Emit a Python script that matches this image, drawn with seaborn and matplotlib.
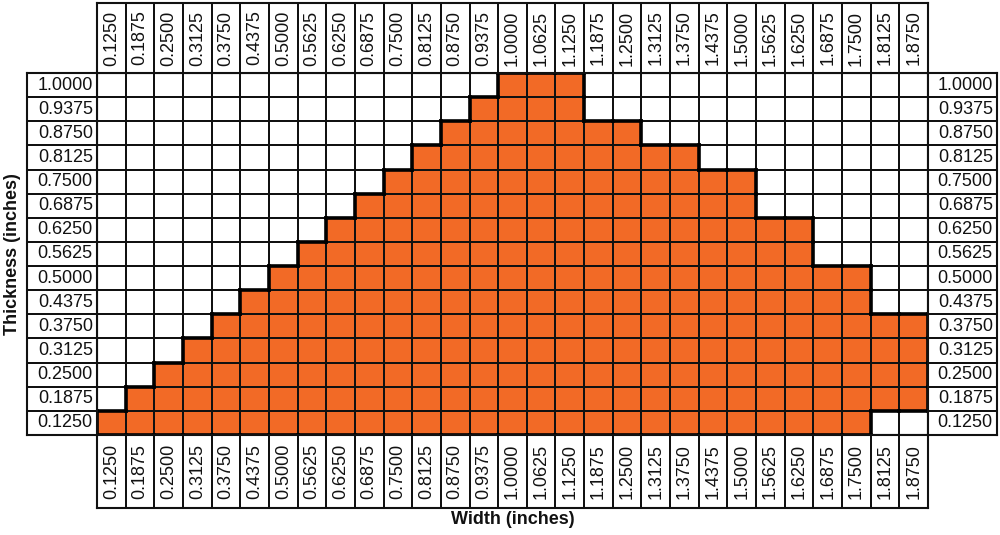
import numpy as np
import pandas as pd
import matplotlib
matplotlib.use("Agg")
import matplotlib.pyplot as plt
from matplotlib.colors import ListedColormap
import seaborn as sns

# ---- data ----
width_labels = ["0.1250", "0.1875", "0.2500", "0.3125", "0.3750", "0.4375", "0.5000",
                "0.5625", "0.6250", "0.6875", "0.7500", "0.8125", "0.8750", "0.9375",
                "1.0000", "1.0625", "1.1250", "1.1875", "1.2500", "1.3125", "1.3750",
                "1.4375", "1.5000", "1.5625", "1.6250", "1.6875", "1.7500", "1.8125",
                "1.8750"]
thickness_labels = ["1.0000", "0.9375", "0.8750", "0.8125", "0.7500", "0.6875", "0.6250",
                    "0.5625", "0.5000", "0.4375", "0.3750", "0.3125", "0.2500", "0.1875",
                    "0.1250"]
col_top = [0.1250, 0.1875, 0.2500, 0.3125, 0.3750, 0.4375, 0.5000, 0.5625, 0.6250,
           0.6875, 0.7500, 0.8125, 0.8750, 0.9375, 1.0000, 1.0000, 1.0000, 0.8750,
           0.8750, 0.8125, 0.8125, 0.7500, 0.7500, 0.6250, 0.6250, 0.5000, 0.5000,
           0.3750, 0.3750]
col_bottom = [0.1250, 0.1250, 0.1250, 0.1250, 0.1250, 0.1250, 0.1250, 0.1250, 0.1250,
              0.1250, 0.1250, 0.1250, 0.1250, 0.1250, 0.1250, 0.1250, 0.1250, 0.1250,
              0.1250, 0.1250, 0.1250, 0.1250, 0.1250, 0.1250, 0.1250, 0.1250, 0.1250,
              0.1875, 0.1875]

ORANGE = "#F26A26"
LINE = "#111111"

sns.set_theme(style="white")
plt.rcParams["font.family"] = ["Liberation Sans", "DejaVu Sans"]

thick_vals = np.array([float(t) for t in thickness_labels])
mask = np.zeros((len(thickness_labels), len(width_labels)))
for j in range(len(width_labels)):
    for i, t in enumerate(thick_vals):
        if col_bottom[j] - 1e-9 <= t <= col_top[j] + 1e-9:
            mask[i, j] = 1
grid = pd.DataFrame(mask, index=thickness_labels, columns=width_labels)

fig = plt.figure(figsize=(10, 5.35), dpi=100)

# main grid
ax = fig.add_axes([0.097, 1 - 435 / 535, 0.831, 362 / 535])
sns.heatmap(grid, ax=ax, cmap=ListedColormap(["white", ORANGE]), vmin=0, vmax=1,
            cbar=False, linewidths=1.2, linecolor=LINE, xticklabels=False,
            yticklabels=False)
ax.set_xlabel("")
ax.set_ylabel("")
for s in ax.spines.values():
    s.set_visible(True)
    s.set_linewidth(1.5)
    s.set_color(LINE)

# thick outline around filled region
nr, nc = mask.shape
for i in range(nr):
    for j in range(nc):
        if mask[i, j] != 1:
            continue
        if i == 0 or mask[i - 1, j] == 0:
            ax.plot([j, j + 1], [i, i], color="black", lw=2.6, solid_capstyle="projecting")
        if i == nr - 1 or mask[i + 1, j] == 0:
            ax.plot([j, j + 1], [i + 1, i + 1], color="black", lw=2.6, solid_capstyle="projecting")
        if j == 0 or mask[i, j - 1] == 0:
            ax.plot([j, j], [i, i + 1], color="black", lw=2.6, solid_capstyle="projecting")
        if j == nc - 1 or mask[i, j + 1] == 0:
            ax.plot([j + 1, j + 1], [i, i + 1], color="black", lw=2.6, solid_capstyle="projecting")


def label_strip(rect, labels, horizontal, rotation, ha):
    a = fig.add_axes(rect)
    n = len(labels)
    shape = (1, n) if horizontal else (n, 1)
    data = np.zeros(shape)
    annot = np.array(labels).reshape(shape)
    sns.heatmap(data, ax=a, cmap=ListedColormap(["white"]), cbar=False,
                linewidths=1.2, linecolor=LINE, annot=annot, fmt="",
                annot_kws=dict(rotation=rotation, fontsize=13, color="#111111"),
                xticklabels=False, yticklabels=False)
    for s in a.spines.values():
        s.set_visible(True)
        s.set_linewidth(1.5)
        s.set_color(LINE)
    if ha == "right":
        for t in a.texts:
            t.set_ha("right")
            x, y = t.get_position()
            t.set_position((x + 0.44, y))
    return a


label_strip([0.097, 1 - 73 / 535, 0.831, 70 / 535], width_labels, True, 90, "center")
label_strip([0.097, 1 - 508 / 535, 0.831, 73 / 535], width_labels, True, 90, "center")
label_strip([0.027, 1 - 435 / 535, 0.070, 362 / 535], thickness_labels, False, 0, "right")
label_strip([0.928, 1 - 435 / 535, 0.069, 362 / 535], thickness_labels, False, 0, "right")

fig.text(0.5125, 1 - 520 / 535, "Width (inches)", ha="center", va="center",
         fontsize=13, fontweight="bold", color="#111111")
fig.text(0.013, 1 - 254 / 535, "Thickness (inches)", ha="center", va="center",
         rotation=90, fontsize=13, fontweight="bold", color="#111111")

fig.savefig("out.png", dpi=100)
